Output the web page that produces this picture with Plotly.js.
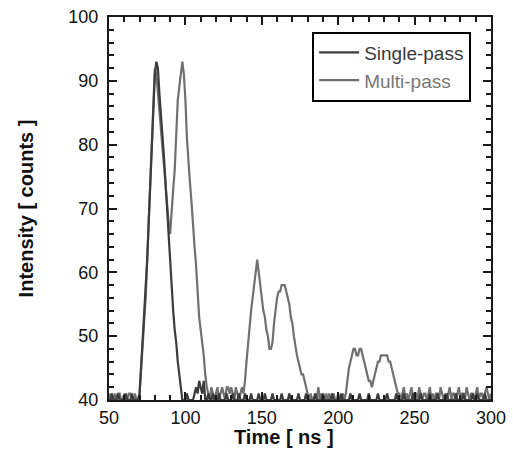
<!DOCTYPE html>
<html>
<head>
<meta charset="utf-8">
<script src="https://cdn.plot.ly/plotly-3.0.1.min.js"></script>
<style>html,body{margin:0;padding:0;background:#fff;}#chart{width:513px;height:462px;}</style>
</head>
<body>
<div id="chart"></div>
<script>
// Time axis sampling: first time (ns) and step (ns)
const timeStart = 50;
const timeStep = 1;

// Multi-pass intensity (counts), t = 50 .. 300 ns
const multiPass = [
  40,41,40,40,41,40,41,41,40,40, // 50
  41,40,40,41,41,40,40,41,40,40, // 60
  41,45,49,52,56,62,68,74,79,86, // 70
  92,91,88,85,83,80,77,74,71,68, // 80
  66,70,73,76,83,87,89,91,93,91, // 90
  87,81,77,74,71,67,64,61,56,53, // 100
  51,49,47,44,42,41,40,42,41,40, // 110
  41,42,40,41,42,41,40,42,42,41, // 120
  42,41,40,42,41,40,41,42,41,43, // 130
  46,49,52,54,56,58,60,62,60,58, // 140
  56,54,53,51,50,48,48,49,52,54, // 150
  56,57,57,58,58,58,57,56,55,53, // 160
  52,50,48,47,46,45,44,44,43,42, // 170
  41,40,41,40,40,41,40,42,40,41, // 180
  40,40,41,40,41,40,40,41,40,40, // 190
  41,40,40,41,40,41,43,45,46,47, // 200
  48,48,47,47,48,48,47,46,45,44, // 210
  43,43,42,43,44,45,46,46,47,47, // 220
  47,47,47,46,46,45,44,43,42,41, // 230
  41,40,41,42,40,41,40,41,42,40, // 240
  41,41,40,42,41,40,41,41,40,41, // 250
  42,40,41,40,41,41,40,42,41,40, // 260
  41,40,41,42,40,41,41,40,41,42, // 270
  40,41,41,40,42,41,40,41,41,40, // 280
  41,42,40,41,41,40,41,42,41,40, // 290
  41                              // 300
];

// Single-pass intensity (counts), t = 50 .. 300 ns
const singlePass = [
  40,40,41,40,40,40,41,40,40,40, // 50
  40,41,40,40,40,41,40,40,40,40, // 60
  41,45,49,53,57,62,68,74,80,86, // 70
  91,93,92,88,85,81,78,74,70,65, // 80
  61,57,54,51,49,46,44,42,40,40, // 90
  40,41,40,40,40,40,41,42,41,43, // 100
  42,41,43,40,40,41,40,40,41,40, // 110
  40,40,41,40,40,40,40,41,40,40, // 120
  40,41,40,40,40,41,40,40,40,41, // 130
  40,40,40,41,40,40,40,40,41,40, // 140
  40,40,41,40,40,40,40,41,40,40, // 150
  40,40,40,41,40,40,40,40,41,40, // 160
  40,40,40,40,41,40,40,40,40,41, // 170
  40,40,40,40,40,41,40,40,40,40, // 180
  41,40,40,40,40,40,41,40,40,40, // 190
  40,40,41,40,40,40,40,40,41,40, // 200
  40,40,40,40,41,40,40,40,40,40, // 210
  41,40,40,40,40,40,41,40,40,40, // 220
  40,40,41,40,40,40,40,40,41,40, // 230
  40,40,40,41,40,40,40,40,40,41, // 240
  40,40,40,40,41,40,40,40,40,40, // 250
  41,40,40,40,40,41,40,40,40,40, // 260
  40,41,40,40,40,40,40,41,40,40, // 270
  40,40,41,40,40,40,40,40,41,40, // 280
  40,41,40,40,40,40,41,40,40,40, // 290
  40                              // 300
];

const seriesNames = ['Single-pass', 'Multi-pass'];
const xTitle = 'Time [ ns ]';
const yTitle = 'Intensity [ counts ]';

const font = 'Arial, "Liberation Sans", sans-serif';
const axisColor = '#1a1a1a';

const traces = [
  {
    type: 'scatter', mode: 'lines',
    x0: timeStart, dx: timeStep, y: multiPass,
    name: '<span style="color:#777777">' + seriesNames[1] + '</span>',
    line: {color: '#707070', width: 2.2},
    legendrank: 2, legendgroup: 'm'
  },
  {
    type: 'scatter', mode: 'lines',
    x0: timeStart, dx: timeStep, y: singlePass,
    name: seriesNames[0],
    line: {color: '#3c3c3c', width: 2.2},
    legendrank: 1, legendgroup: 's'
  }
];

const axisCommon = {
  showline: true, linewidth: 2, linecolor: axisColor, mirror: 'ticks',
  ticks: 'inside', ticklen: 8, tickwidth: 2, tickcolor: axisColor,
  showgrid: false, zeroline: false,
  tickfont: {family: font, size: 18, color: '#111'},
};

const layout = {
  width: 513, height: 462,
  margin: {l: 109, r: 22, t: 17, b: 62},
  paper_bgcolor: '#fff', plot_bgcolor: '#fff',
  font: {family: font},
  showlegend: true,
  legend: {
    x: 0.948, xanchor: 'right', y: 0.962, yanchor: 'top',
    bordercolor: '#000', borderwidth: 2, bgcolor: '#fff',
    font: {family: font, size: 19, color: '#3a3a3a'},
    tracegroupgap: 0, itemwidth: 40
  },
  xaxis: Object.assign({}, axisCommon, {
    range: [50, 300], dtick: 50, tick0: 50,
    minor: {dtick: 10, ticks: 'inside', ticklen: 5, tickwidth: 2, tickcolor: axisColor}
  }),
  yaxis: Object.assign({}, axisCommon, {
    range: [40, 100], dtick: 10, tick0: 40, ticklabelstandoff: 5,
    minor: {dtick: 2, ticks: 'inside', ticklen: 5, tickwidth: 2, tickcolor: axisColor},
    title: {text: '<b>' + yTitle + '</b>', font: {family: font, size: 20, color: '#111'}, standoff: 29}
  }),
  annotations: [{
    text: '<b>' + xTitle + '</b>', xref: 'paper', yref: 'paper',
    x: 0.458, y: -0.0966, xanchor: 'center', yanchor: 'middle', showarrow: false,
    font: {family: font, size: 20, color: '#111'}
  }]
};

Plotly.newPlot('chart', traces, layout, {staticPlot: true, displayModeBar: false});
</script>
</body>
</html>
